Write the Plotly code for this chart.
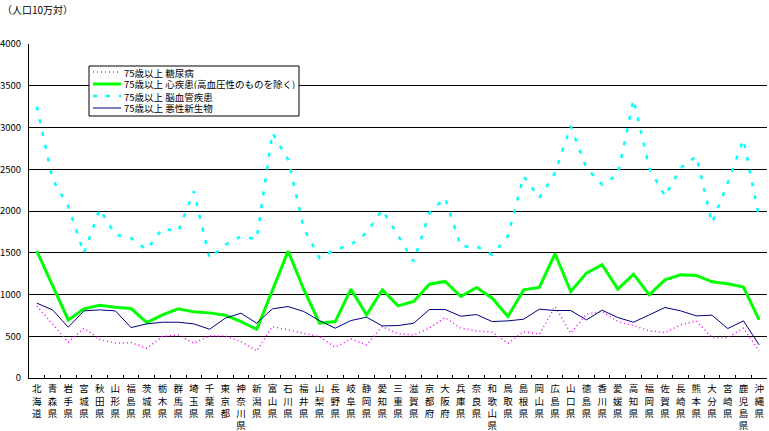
import plotly.graph_objects as go

# 都道府県（x 軸の並び順）
prefs = [
    "北海道", "青森県", "岩手県", "宮城県", "秋田県", "山形県", "福島県",
    "茨城県", "栃木県", "群馬県", "埼玉県", "千葉県", "東京都", "神奈川県",
    "新潟県", "富山県", "石川県", "福井県", "山梨県", "長野県", "岐阜県",
    "静岡県", "愛知県", "三重県", "滋賀県", "京都府", "大阪府", "兵庫県",
    "奈良県", "和歌山県", "鳥取県", "島根県", "岡山県", "広島県", "山口県",
    "徳島県", "香川県", "愛媛県", "高知県", "福岡県", "佐賀県", "長崎県",
    "熊本県", "大分県", "宮崎県", "鹿児島県", "沖縄県",
]

# 75歳以上 死亡率（人口10万対）— 図から読み取った値
diabetes = [
    864, 644, 428, 596, 464, 416, 424, 356, 496, 516, 416, 504, 504, 436,
    324, 616, 576, 536, 496, 368, 468, 396, 616, 528, 516, 596, 724, 596,
    564, 548, 416, 556, 524, 856, 536, 764, 796, 676, 628, 564, 544, 636,
    684, 484, 484, 596, 324,
]
heart = [
    1520, 1100, 696, 828, 872, 848, 832, 664, 756, 828, 792, 780, 752, 676,
    584, 1050, 1520, 1060, 656, 676, 1064, 756, 1056, 864, 916, 1124, 1156, 976,
    1084, 956, 736, 1056, 1084, 1488, 1036, 1256, 1356, 1064, 1244, 996, 1176, 1236,
    1228, 1152, 1128, 1088, 696,
]
stroke = [
    3250, 2380, 2056, 1496, 2024, 1716, 1676, 1536, 1790, 1756, 2236, 1436, 1596, 1696,
    1664, 2936, 2616, 1796, 1436, 1536, 1596, 1740, 2016, 1700, 1396, 1976, 2156, 1576,
    1576, 1476, 1700, 2416, 2156, 2456, 3016, 2516, 2316, 2436, 3336, 2516, 2176, 2516,
    2656, 1856, 2340, 2856, 1920,
]
cancer = [
    896, 816, 608, 804, 816, 804, 604, 648, 668, 668, 648, 584, 716, 776,
    656, 828, 856, 796, 688, 596, 688, 728, 624, 628, 656, 820, 820, 740,
    760, 676, 684, 704, 824, 808, 808, 696, 812, 724, 668, 756, 844, 804,
    744, 752, 592, 684, 396,
]

series = [
    ("75歳以上 糖尿病", diabetes, "#FF00FF", 1.5, "1px,3px"),
    ("75歳以上 心疾患(高血圧性のものを除く)", heart, "#00FF00", 3, "solid"),
    ("75歳以上 脳血管疾患", stroke, "#00FFFF", 2.5, "4px,9px"),
    ("75歳以上 悪性新生物", cancer, "#000080", 1, "solid"),
]

JP = "Noto Sans CJK JP"

fig = go.Figure()
for name, vals, col, w, dash in series:
    fig.add_trace(go.Scatter(
        x=prefs, y=vals, name=name, mode="lines",
        line=dict(color=col, width=w, dash=dash),
        showlegend=False,
    ))

# 縦書き風の目盛ラベル
vert = ["<br>".join(p) for p in prefs]

fig.update_layout(
    width=769, height=431,
    margin=dict(l=29, r=2, t=44, b=53, autoexpand=False),
    paper_bgcolor="white", plot_bgcolor="white",
    font=dict(family=JP, size=10, color="black"),
    xaxis=dict(
        tickmode="array", tickvals=prefs, ticktext=vert, tickangle=0,
        automargin=False,
        showgrid=False, showline=True, linecolor="black", linewidth=1,
        ticks="inside", ticklen=3, tickcolor="black", tickson="boundaries",
        ticklabelstandoff=2,
        tickfont=dict(family=JP, size=9.5), range=[-0.5, 46.5],
    ),
    yaxis=dict(
        range=[0, 4000], dtick=500, showgrid=True, gridcolor="black", gridwidth=1,
        showline=True, linecolor="black", linewidth=1, zeroline=False,
        automargin=False,
        ticks="", ticklabelstandoff=5, tickfont=dict(family=JP, size=9.5),
    ),
)

fig.add_annotation(
    text="（人口10万対）", xref="paper", yref="paper", x=-29 / 738, y=1 + 44 / 334,
    xanchor="left", yanchor="top", showarrow=False, font=dict(family=JP, size=10),
)

# 凡例（手描き）
px = lambda x: (x - 29) / 738
py = lambda y: (378 - y) / 334
fig.add_shape(type="rect", xref="paper", yref="paper",
              x0=px(89), x1=px(299), y0=py(116), y1=py(66),
              line=dict(color="black", width=1), fillcolor="white", layer="above")
for i, (name, vals, col, w, dash) in enumerate(series):
    yy = 72 + 12 * i
    fig.add_shape(type="line", xref="paper", yref="paper",
                  x0=px(93), x1=px(121), y0=py(yy), y1=py(yy),
                  line=dict(color=col, width=w, dash=dash), layer="above")
    fig.add_annotation(text=name, xref="paper", yref="paper", x=px(122), y=py(yy),
                       xanchor="left", yanchor="middle", showarrow=False, height=11,
                       font=dict(family=JP, size=9.5))

# ページ既定の余白を消して 769x431 にぴったり合わせる
fig.write_html("out.html", config={"displayModeBar": False},
               post_script="document.body.style.margin='0';")
